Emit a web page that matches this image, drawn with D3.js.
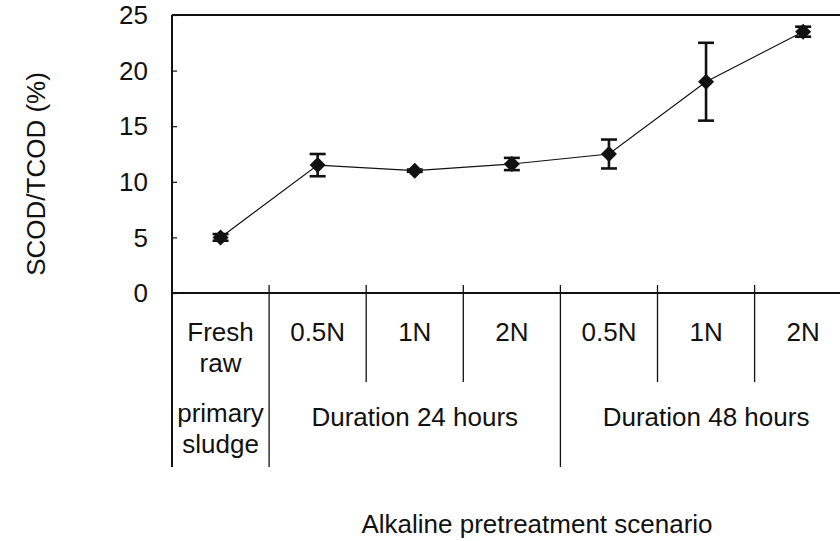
<!DOCTYPE html>
<html>
<head>
<meta charset="utf-8">
<script src="https://cdn.jsdelivr.net/npm/d3@7"></script>
<style>
  body { margin: 0; background: #fff; }
  svg { display: block; }
  text { font-family: Arial, "Liberation Sans", sans-serif; fill: #111; }
</style>
</head>
<body>
<svg id="chart" width="840" height="541"></svg>
<script>
  // data
  var scenarios = ['fresh', '24-0.5', '24-1', '24-2', '48-0.5', '48-1', '48-2']
  var dose = [['Fresh', 'raw'], ['0.5N'], ['1N'], ['2N'], ['0.5N'], ['1N'], ['2N']]
  var ratio = [5.0, 11.5, 11.0, 11.6, 12.5, 19.0, 23.5]
  var ratioErr = [0.3, 1.0, 0.1, 0.55, 1.3, 3.5, 0.45]
  var groups = [
    { label: ['primary', 'sludge'], from: 0, to: 1 },
    { label: ['Duration 24 hours'], from: 1, to: 4 },
    { label: ['Duration 48 hours'], from: 4, to: 7 }
  ]
  var yTicks = [0, 5, 10, 15, 20, 25]

  //
  // layout
  //
  var svg = d3.select('#chart')
  var plotLeft = 172, plotTop = 15, plotBottom = 293, bandW = 97.1
  var plotRight = plotLeft + bandW * scenarios.length
  var tableMid = 382, tableEnd = 467

  var x = d3.scaleBand().domain(scenarios).range([plotLeft, plotRight])
  var y = d3.scaleLinear().domain([0, 25]).range([plotBottom, plotTop])

  // frame: top border + axes
  svg.append('line').attr('x1', plotLeft).attr('x2', plotRight).attr('y1', plotTop).attr('y2', plotTop)
    .attr('stroke', '#111').attr('stroke-width', 2)
  svg.append('line').attr('x1', plotLeft).attr('x2', plotRight).attr('y1', plotBottom).attr('y2', plotBottom)
    .attr('stroke', '#111').attr('stroke-width', 2.2)
  svg.append('line').attr('x1', plotLeft).attr('x2', plotLeft).attr('y1', plotTop).attr('y2', tableEnd)
    .attr('stroke', '#111').attr('stroke-width', 2)

  // y axis ticks (inward) and labels
  var yAxis = d3.axisRight(y).tickValues(yTicks).tickSize(5).tickFormat('')
  svg.append('g').attr('transform', 'translate(' + plotLeft + ',0)').call(yAxis)
    .call(function (g) { g.select('.domain').remove() })
    .selectAll('line').attr('stroke', '#111').attr('stroke-width', 1.2)

  svg.append('g').selectAll('text').data(yTicks).enter().append('text')
    .attr('x', 148).attr('y', function (d) { return y(d) })
    .attr('dy', '0.35em').attr('text-anchor', 'end')
    .style('font-size', '26px').text(function (d) { return d })

  svg.append('text')
    .attr('transform', 'translate(45,174) rotate(-90)')
    .attr('text-anchor', 'middle').style('font-size', '26px')
    .text('SCOD/TCOD (%)')

  // category table lines
  var bounds = scenarios.slice(1).map(function (s, i) { return { x: x(s), i: i + 1 } })
  var groupStarts = groups.map(function (g) { return g.from })
  svg.append('g').selectAll('line').data(bounds).enter().append('line')
    .attr('x1', function (d) { return d.x }).attr('x2', function (d) { return d.x })
    .attr('y1', plotBottom - 8)
    .attr('y2', function (d) { return groupStarts.indexOf(d.i) >= 0 ? tableEnd : tableMid })
    .attr('stroke', '#111').attr('stroke-width', 1.3)

  // dose labels
  var doseG = svg.append('g')
  scenarios.forEach(function (s, i) {
    dose[i].forEach(function (t, k) {
      doseG.append('text')
        .attr('x', x(s) + x.bandwidth() / 2).attr('y', 341 + k * 31)
        .attr('text-anchor', 'middle').style('font-size', '26px').text(t)
    })
  })

  // group labels
  groups.forEach(function (g) {
    var gx = (x(scenarios[g.from]) + x(scenarios[g.to - 1]) + x.bandwidth()) / 2
    g.label.forEach(function (t, k) {
      svg.append('text').attr('x', gx)
        .attr('y', (g.label.length > 1 ? 422 : 426) + k * 31)
        .attr('text-anchor', 'middle').style('font-size', '26px').text(t)
    })
  })

  svg.append('text').attr('x', 537).attr('y', 533)
    .attr('text-anchor', 'middle').style('font-size', '26px')
    .text('Alkaline pretreatment scenario')

  // series
  var cx = function (d, i) { return x(scenarios[i]) + x.bandwidth() / 2 }
  var line = d3.line().x(function (d, i) { return cx(d, i) }).y(function (d) { return y(d) })
  svg.append('path').datum(ratio).attr('d', line)
    .attr('fill', 'none').attr('stroke', '#111').attr('stroke-width', 1.2)

  var errG = svg.append('g').attr('stroke', '#111').attr('stroke-width', 2.6)
  ratio.forEach(function (v, i) {
    var px = cx(v, i), hi = y(v + ratioErr[i]), lo = y(v - ratioErr[i])
    errG.append('line').attr('x1', px).attr('x2', px).attr('y1', hi).attr('y2', lo)
    errG.append('line').attr('x1', px - 8).attr('x2', px + 8).attr('y1', hi).attr('y2', hi)
    errG.append('line').attr('x1', px - 8).attr('x2', px + 8).attr('y1', lo).attr('y2', lo)
  })

  // diamonds: square turned 45 degrees
  var diamond = d3.symbol().type(d3.symbolSquare).size(128)
  svg.append('g').selectAll('path').data(ratio).enter().append('path')
    .attr('transform', function (d, i) { return 'translate(' + cx(d, i) + ',' + y(d) + ') rotate(45)' })
    .attr('d', diamond).attr('fill', '#111')
</script>
</body>
</html>
